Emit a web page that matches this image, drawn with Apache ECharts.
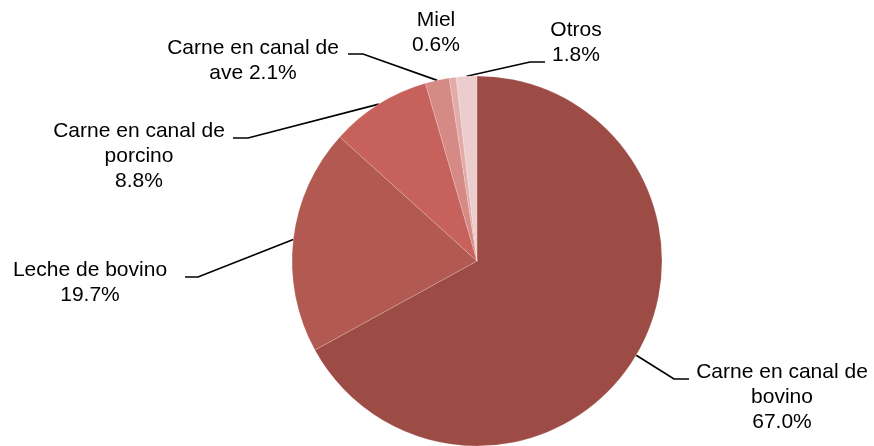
<!DOCTYPE html>
<html>
<head>
<meta charset="utf-8">
<script src="https://cdn.jsdelivr.net/npm/echarts@6/dist/echarts.min.js"></script>
<style>
  html, body { margin: 0; padding: 0; background: #fff; }
  #chart { width: 874px; height: 446px; }
</style>
</head>
<body>
<div id="chart"></div>
<script>
// productos y su participación (%)
const names = ['Carne en canal de bovino', 'Leche de bovino', 'Carne en canal de porcino', 'Carne en canal de ave', 'Miel', 'Otros']
const labelNames = ['Carne en canal de\nbovino', 'Leche de bovino', 'Carne en canal de\nporcino', 'Carne en canal de\nave', 'Miel', 'Otros']
const shares = [67.0, 19.7, 8.8, 2.1, 0.6, 1.8]
const colors = ['#9d4b45', '#b25952', '#c6615b', '#d68a85', '#e2aba8', '#ebcdcd']

// posición de etiquetas: centro x, centro de la primera línea y
const labelSpots = [[782, 372], [90, 270], [139, 131], [253, 48], [436, 20], [576, 30]]
// final de la línea guía: x, y, largo del tramo horizontal (signo = lado)
const guideEnds = [[689, 379, -15], [185, 277, 13], [233, 138, 15], [348, 54, 15], null, [545, 62, -15]]

const lineH = 25

let myChart = echarts.init(document.getElementById('chart'))

myChart.setOption({
  animation: false,
  series: [
    {
      type: 'pie',
      center: [477, 261],
      radius: 185,
      startAngle: 90,
      clockwise: true,
      itemStyle: {
        borderColor: 'rgba(255,255,255,0.35)',
        borderWidth: 0.5
      },
      label: {
        position: 'outside',
        color: '#000',
        fontFamily: 'Liberation Sans, Arial, sans-serif',
        fontSize: 21,
        lineHeight: lineH,
        formatter: function (p) {
          // "ave" lleva el valor en la misma línea
          let sep = p.dataIndex === 3 ? ' ' : '\n'
          return labelNames[p.dataIndex] + sep + shares[p.dataIndex].toFixed(1) + '%'
        }
      },
      labelLine: {
        show: true,
        lineStyle: { color: '#000', width: 1.7 }
      },
      labelLayout: function (params) {
        let i = params.dataIndex
        let spot = labelSpots[i]
        let res = {
          x: spot[0],
          y: spot[1] - lineH / 2,
          align: 'center',
          verticalAlign: 'top'
        }
        let g = guideEnds[i]
        if (g && params.labelLinePoints) {
          let a = params.labelLinePoints[0]
          res.labelLinePoints = [[a[0], a[1]], [g[0] + g[2], g[1]], [g[0], g[1]]]
        }
        return res
      },
      data: names.map(function (n, i) {
        let item = {
          name: n,
          value: shares[i],
          itemStyle: { color: colors[i] }
        }
        if (!guideEnds[i]) item.labelLine = { show: false }
        return item
      })
    }
  ]
})
</script>
</body>
</html>
